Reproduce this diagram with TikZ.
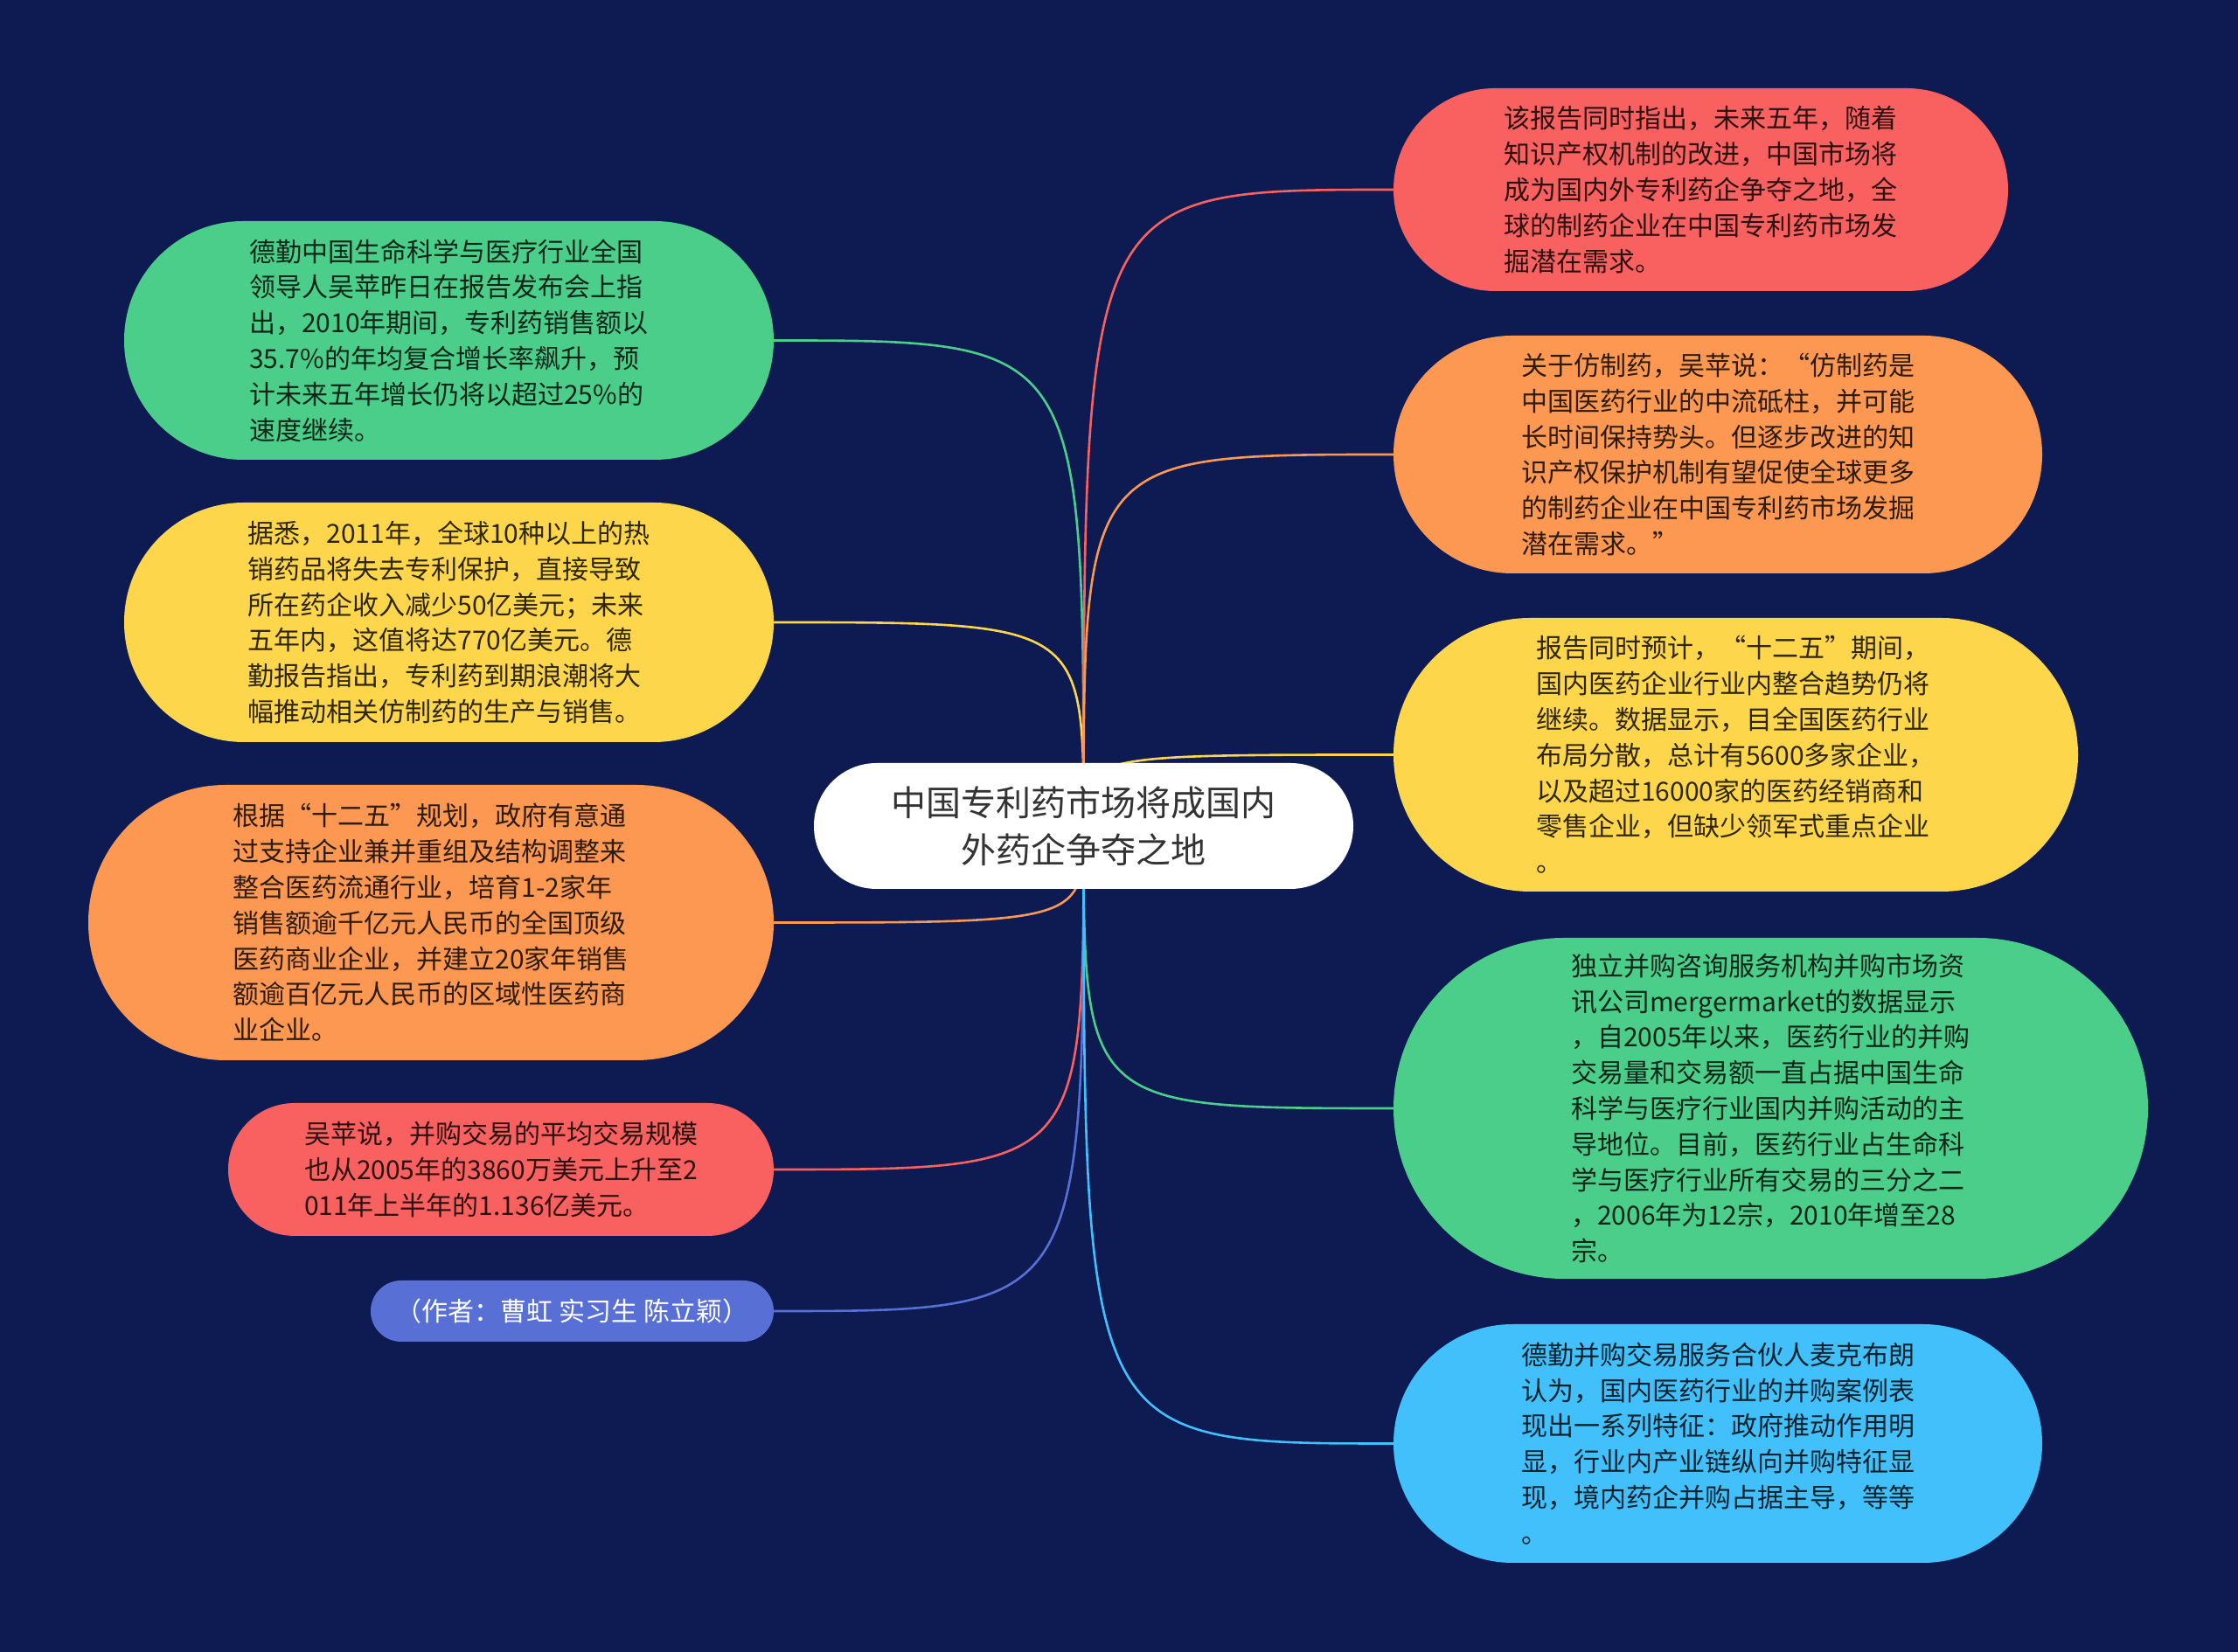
\documentclass[tikz,border=0pt]{standalone}
\usepackage{fontspec}
\newfontfamily\cjk{Noto Sans CJK SC}
\begin{document}
\begin{tikzpicture}[x=1pt,y=1pt,
  bubble/.style 2 args={rectangle,inner sep=0pt,outer sep=0pt,minimum width=#1,minimum height=#2,rounded corners=#2/2-0.05pt,align=left,text=black,text opacity=0.82,font=\cjk\fontsize{15}{20.4}\selectfont},
  topic/.style={rectangle,inner sep=0pt,outer sep=0pt,minimum width=308.5pt,minimum height=72pt,rounded corners=35.9pt,align=center,fill=white,text=textColor,font=\cjk\fontsize{20}{27}\selectfont},
  link/.style={line width=1.3pt,line join=round,line cap=round}]
\definecolor{fillColor}{RGB}{13,27,82}
\definecolor{textColor}{RGB}{51,51,51}
\definecolor{greenColor}{RGB}{74,206,138}
\definecolor{yellowColor}{RGB}{253,214,76}
\definecolor{orangeColor}{RGB}{253,152,83}
\definecolor{redColor}{RGB}{249,96,96}
\definecolor{violetColor}{RGB}{88,112,214}
\definecolor{blueColor}{RGB}{66,192,252}
\path[use as bounding box,fill=fillColor] (0,0) rectangle (1280,945);

\coordinate (hub) at (619.75,472.5);

\node[bubble={371.5pt}{136.5pt},fill=greenColor] (l1) at (256.75,750.25) {德勤中国生命科学与医疗行业全国\\
领导人吴苹昨日在报告发布会上指\\
出，2010年期间，专利药销售额以\\
35.7\%的年均复合增长率飙升，预\\
计未来五年增长仍将以超过25\%的\\
速度继续。};

\node[bubble={371.5pt}{137pt},fill=yellowColor] (l2) at (256.75,589) {据悉，2011年，全球10种以上的热\\
销药品将失去专利保护，直接导致\\
所在药企收入减少50亿美元；未来\\
五年内，这值将达770亿美元。德\\
勤报告指出，专利药到期浪潮将大\\
幅推动相关仿制药的生产与销售。};

\node[bubble={392pt}{157.5pt},fill=orangeColor] (l3) at (246.5,417.25) {根据“十二五”规划，政府有意通\\
过支持企业兼并重组及结构调整来\\
整合医药流通行业，培育1-2家年\\
销售额逾千亿元人民币的全国顶级\\
医药商业企业，并建立20家年销售\\
额逾百亿元人民币的区域性医药商\\
业企业。};

\node[bubble={312pt}{76pt},fill=redColor] (l4) at (286.5,276) {吴苹说，并购交易的平均交易规模\\
也从2005年的3860万美元上升至2\\
011年上半年的1.136亿美元。};

\node[bubble={230.5pt}{35pt},fill=violetColor,text=white,text opacity=1] (l5) at (327.25,195) {（作者：曹虹 实习生 陈立颖）};

\node[bubble={351.5pt}{116pt},fill=redColor] (r1) at (972.75,836.5) {该报告同时指出，未来五年，随着\\
知识产权机制的改进，中国市场将\\
成为国内外专利药企争夺之地，全\\
球的制药企业在中国专利药市场发\\
掘潜在需求。};

\node[bubble={371pt}{136pt},fill=orangeColor] (r2) at (982.5,685) {关于仿制药，吴苹说：“仿制药是\\
中国医药行业的中流砥柱，并可能\\
长时间保持势头。但逐步改进的知\\
识产权保护机制有望促使全球更多\\
的制药企业在中国专利药市场发掘\\
潜在需求。”};

\node[bubble={391.5pt}{156.5pt},fill=yellowColor] (r3) at (992.75,513.25) {报告同时预计，“十二五”期间，\\
国内医药企业行业内整合趋势仍将\\
继续。数据显示，目全国医药行业\\
布局分散，总计有5600多家企业，\\
以及超过16000家的医药经销商和\\
零售企业，但缺少领军式重点企业\\
。};

\node[bubble={431.5pt}{195pt},fill=greenColor] (r4) at (1012.75,311) {独立并购咨询服务机构并购市场资\\
讯公司mergermarket的数据显示\\
，自2005年以来，医药行业的并购\\
交易量和交易额一直占据中国生命\\
科学与医疗行业国内并购活动的主\\
导地位。目前，医药行业占生命科\\
学与医疗行业所有交易的三分之二\\
，2006年为12宗，2010年增至28\\
宗。};

\node[bubble={371pt}{136.5pt},fill=blueColor] (r5) at (982.5,119.25) {德勤并购交易服务合伙人麦克布朗\\
认为，国内医药行业的并购案例表\\
现出一系列特征：政府推动作用明\\
显，行业内产业链纵向并购特征显\\
现，境内药企并购占据主导，等等\\
。};

\path[link,draw=greenColor] (hub) .. controls (hub |- l1.east) .. (l1.east);

\path[link,draw=yellowColor] (hub) .. controls (hub |- l2.east) .. (l2.east);

\path[link,draw=orangeColor] (hub) .. controls (hub |- l3.east) .. (l3.east);

\path[link,draw=redColor] (hub) .. controls (hub |- l4.east) .. (l4.east);

\path[link,draw=violetColor] (hub) .. controls (hub |- l5.east) .. (l5.east);

\path[link,draw=redColor] (hub) .. controls (hub |- r1.west) .. (r1.west);

\path[link,draw=orangeColor] (hub) .. controls (hub |- r2.west) .. (r2.west);

\path[link,draw=yellowColor] (hub) .. controls (hub |- r3.west) .. (r3.west);

\path[link,draw=greenColor] (hub) .. controls (hub |- r4.west) .. (r4.west);

\path[link,draw=blueColor] (hub) .. controls (hub |- r5.west) .. (r5.west);

\node[topic] (root) at (hub) {中国专利药市场将成国内\\外药企争夺之地};
\end{tikzpicture}
\end{document}
